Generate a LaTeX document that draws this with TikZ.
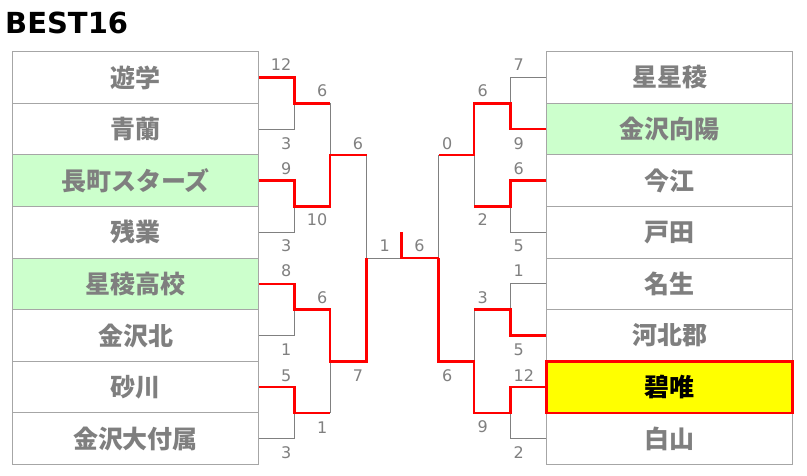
\documentclass[tikz,border=0pt]{standalone}
\usepackage{fontspec}
\setmainfont{DejaVu Sans}
\newfontfamily\jpfont{Noto Sans CJK JP}
\newfontfamily\numfont{DejaVu Sans}
\definecolor{boxgray}{HTML}{A6A6A6}
\definecolor{teamgray}{HTML}{7F7F7F}
\definecolor{numgray}{HTML}{808080}
\definecolor{linegray}{HTML}{808080}
\definecolor{wingreen}{HTML}{CCFFCC}
\definecolor{champred}{HTML}{FF0000}
\definecolor{champyellow}{HTML}{FFFF00}
\begin{document}
\begin{tikzpicture}[x=1pt,y=-1pt,
  team/.style={draw=boxgray, line width=0.9pt, minimum width=245.6pt, minimum height=51.6pt, inner sep=0pt, text=teamgray, font=\jpfont\bfseries\fontsize{25}{25}\selectfont},
  win/.style={team, fill=wingreen},
  champ/.style={team, fill=champyellow, draw=champred, line width=2.6pt, text=black},
  sc/.style={inner sep=0pt, text=numgray, font=\numfont\fontsize{16}{16}\selectfont},
  gl/.style={draw=linegray, line width=0.9pt},
  rl/.style={draw=champred, line width=2.6pt},
  title/.style={inner sep=0pt, anchor=base west, font=\numfont\bfseries\fontsize{29}{29}\selectfont}
]
\fill[white] (0,0) rectangle (807,476);
\useasboundingbox (0,0) rectangle (807,476);

\node[title] (ttl) at (5,33.5) {BEST16};

% left teams
\node[team] (L1) at (135.5,77.5) {遊学};
\node[team] (L2) at (135.5,129.1) {青蘭};
\node[win]  (L3) at (135.5,180.7) {長町スターズ};
\node[team] (L4) at (135.5,232.3) {残業};
\node[win]  (L5) at (135.5,283.9) {星稜高校};
\node[team] (L6) at (135.5,335.5) {金沢北};
\node[team] (L7) at (135.5,387.1) {砂川};
\node[team] (L8) at (135.5,438.7) {金沢大付属};
% right teams
\node[team] (R1) at (669.5,77.5) {星星稜};
\node[win]  (R2) at (669.5,129.1) {金沢向陽};
\node[team] (R3) at (669.5,180.7) {今江};
\node[team] (R4) at (669.5,232.3) {戸田};
\node[team] (R5) at (669.5,283.9) {名生};
\node[team] (R6) at (669.5,335.5) {河北郡};
\node[team] (R8) at (669.5,438.7) {白山};
\node[champ] (R7) at (669.5,387.1) {碧唯};

% junctions
\coordinate (La1) at (294.3,103.3);
\coordinate (La2) at (294.3,206.5);
\coordinate (La3) at (294.3,309.7);
\coordinate (La4) at (294.3,412.9);
\coordinate (Lb1) at (330,154.9);
\coordinate (Lb2) at (330,361.3);
\coordinate (Lc) at (366.7,258.1);
\coordinate (F) at (401.7,258.1);
\coordinate (Ftop) at (401.7,232.3);
\coordinate (Rc) at (438.7,258.1);
\coordinate (Rb1) at (474,154.9);
\coordinate (Rb2) at (474,361.3);
\coordinate (Ra1) at (510.3,103.3);
\coordinate (Ra2) at (510.3,206.5);
\coordinate (Ra3) at (510.3,309.7);
\coordinate (Ra4) at (510.3,412.9);

% gray connectors
\draw[gl] (L2.east) -| (La1);
\draw[gl] (La1 -| Lb1) -- (Lb1);
\draw[gl] (L4.east) -| (La2);
\draw[gl] (Lb1 -| Lc) -- (Lc);
\draw[gl] (L6.east) -| (La3);
\draw[gl] (L8.east) -| (La4);
\draw[gl] (La4 -| Lb2) -- (Lb2);
\draw[gl] (Lc) -- (F);
\draw[gl] (R1.west) -| (Ra1);
\draw[gl] (R4.west) -| (Ra2);
\draw[gl] (Ra2 -| Rb1) -- (Rb1);
\draw[gl] (Rb1 -| Rc) -- (Rc);
\draw[gl] (R5.west) -| (Ra3);
\draw[gl] (Ra3 -| Rb2) -- (Rb2);
\draw[gl] (R8.west) -| (Ra4);

% red connectors
\draw[rl] (L1.east) -| (La1) -- (La1 -| Lb1);
\draw[rl] (L3.east) -| (La2) -- (La2 -| Lb1) -- (Lb1) -- (Lb1 -| Lc);
\draw[rl] (L5.east) -| (La3) -- (La3 -| Lb2) -- (Lb2) -- (Lb2 -| Lc) -- (Lc);
\draw[rl] (L7.east) -| (La4) -- (La4 -| Lb2);
\draw[rl] (Ftop) -- (F) -- (Rc);
\draw[rl] (R2.west) -| (Ra1) -- (Ra1 -| Rb1) -- (Rb1) -- (Rb1 -| Rc);
\draw[rl] (R3.west) -| (Ra2) -- (Ra2 -| Rb1);
\draw[rl] (R6.west) -| (Ra3) -- (Ra3 -| Rb2);
\draw[rl] (R7.west) -| (Ra4) -- (Ra4 -| Rb2) -- (Rb2) -- (Rb2 -| Rc) -- (Rc);

% scores left
\node[sc,anchor=east] (s1) at (291.5,65) {12};
\node[sc,anchor=east] (s2) at (291.5,143.3) {3};
\node[sc,anchor=east] (s3) at (291.5,168.3) {9};
\node[sc,anchor=east] (s4) at (291.5,246) {3};
\node[sc,anchor=east] (s5) at (291.5,271) {8};
\node[sc,anchor=east] (s6) at (291.5,349.3) {1};
\node[sc,anchor=east] (s7) at (291.5,376) {5};
\node[sc,anchor=east] (s8) at (291.5,452.7) {3};
\node[sc,anchor=east] (s9) at (327.5,90.7) {6};
\node[sc,anchor=east] (s10) at (327.5,220) {10};
\node[sc,anchor=east] (s11) at (327.5,297.7) {6};
\node[sc,anchor=east] (s12) at (327.5,427.7) {1};
\node[sc,anchor=east] (s13) at (363.3,143.3) {6};
\node[sc,anchor=east] (s14) at (363.3,376) {7};
\node[sc,anchor=east] (s15) at (390,246) {1};
% scores right
\node[sc,anchor=west] (t1) at (513.5,65) {7};
\node[sc,anchor=west] (t2) at (513.5,143.3) {9};
\node[sc,anchor=west] (t3) at (513.5,168.3) {6};
\node[sc,anchor=west] (t4) at (513.5,246) {5};
\node[sc,anchor=west] (t5) at (513.5,271) {1};
\node[sc,anchor=west] (t6) at (513.5,349.3) {5};
\node[sc,anchor=west] (t7) at (513.5,375.3) {12};
\node[sc,anchor=west] (t8) at (513.5,452.7) {2};
\node[sc,anchor=west] (t9) at (477.5,90.7) {6};
\node[sc,anchor=west] (t10) at (477.5,220) {2};
\node[sc,anchor=west] (t11) at (477.5,297.7) {3};
\node[sc,anchor=west] (t12) at (477.5,426.7) {9};
\node[sc,anchor=west] (t13) at (442,143.3) {0};
\node[sc,anchor=west] (t14) at (442,376) {6};
\node[sc,anchor=west] (t15) at (414.2,246) {6};
\end{tikzpicture}
\end{document}
